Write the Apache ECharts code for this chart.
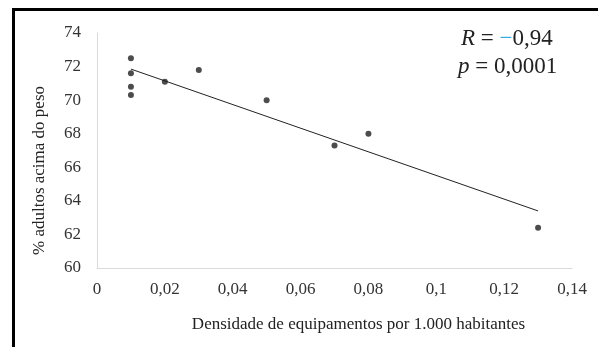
<!DOCTYPE html>
<html>
<head>
<meta charset="utf-8">
<script src="https://cdn.jsdelivr.net/npm/echarts@6/dist/echarts.min.js"></script>
<style>
  html, body { margin: 0; padding: 0; background: #fff; }
  #main { width: 598px; height: 347px; }
</style>
</head>
<body>
<div id="main"></div>
<script>
// densidade de equipamentos (x) vs % adultos acima do peso (y)
const densidade = [0.01, 0.01, 0.01, 0.01, 0.02, 0.03, 0.05, 0.07, 0.08, 0.13];
const adultos = [72.5, 71.6, 70.8, 70.3, 71.1, 71.8, 70.0, 67.3, 68.0, 62.4];
// trend line end points
const trendX = [0.01, 0.13];
const trendY = [71.85, 63.4];

const serif = '"Liberation Serif", "Times New Roman", serif';

const chartDom = document.getElementById('main');
const myChart = echarts.init(chartDom, null, { renderer: 'canvas' });

const option = {
    animation: false,
    backgroundColor: '#fff',
    grid: {
        left: 97,
        right: 26,
        top: 33,
        bottom: 79
    },
    xAxis: {
        type: 'value',
        min: 0,
        max: 0.14,
        interval: 0.02,
        name: 'Densidade de equipamentos por 1.000 habitantes',
        nameLocation: 'middle',
        nameGap: 48,
        nameTextStyle: {
            fontFamily: serif,
            fontSize: 17,
            color: '#222',
            padding: [0, 0, 0, 48]
        },
        axisLine: { show: true, lineStyle: { color: '#d9d9d9', width: 1 } },
        axisTick: { show: false },
        splitLine: { show: false },
        axisLabel: {
            fontFamily: serif,
            fontSize: 17,
            color: '#333',
            margin: 13,
            formatter: v => String(+v.toFixed(2)).replace('.', ',')
        }
    },
    yAxis: {
        type: 'value',
        min: 60,
        max: 74,
        interval: 2,
        name: '% adultos acima do peso',
        nameLocation: 'middle',
        nameGap: 49,
        nameTextStyle: {
            fontFamily: serif,
            fontSize: 17,
            color: '#222',
            padding: [0, 40, 0, 0]
        },
        axisLine: { show: true, lineStyle: { color: '#d9d9d9', width: 1 } },
        axisTick: { show: false },
        splitLine: { show: false },
        axisLabel: {
            fontFamily: serif,
            fontSize: 17,
            color: '#333',
            margin: 16
        }
    },
    graphic: [
        { type: 'rect', shape: { x: 12, y: 8, width: 586, height: 3 }, style: { fill: '#000' } },
        { type: 'rect', shape: { x: 12, y: 8, width: 3, height: 339 }, style: { fill: '#000' } },
        {
            type: 'text',
            left: 461,
            top: 27,
            style: {
                text: '{i|R} = {m|−}0,94',
                font: '23px ' + serif,
                fill: '#222',
                rich: {
                    i: { fontStyle: 'italic', fontFamily: serif, fontSize: 23, fill: '#222' },
                    m: { fontFamily: serif, fontSize: 23, fill: '#2aa7e1' }
                }
            }
        },
        {
            type: 'text',
            left: 458,
            top: 55,
            style: {
                text: '{i|p} = 0,0001',
                font: '23px ' + serif,
                fill: '#222',
                rich: {
                    i: { fontStyle: 'italic', fontFamily: serif, fontSize: 23, fill: '#222' }
                }
            }
        }
    ],
    series: [
        {
            type: 'line',
            data: trendX.map((x, i) => [x, trendY[i]]),
            symbol: 'none',
            lineStyle: { color: '#222', width: 1 },
            z: 1
        },
        {
            type: 'scatter',
            data: densidade.map((x, i) => [x, adultos[i]]),
            symbolSize: 6,
            itemStyle: { color: '#1f1f1f' },
            z: 2
        }
    ]
};

myChart.setOption(option);
</script>
</body>
</html>
